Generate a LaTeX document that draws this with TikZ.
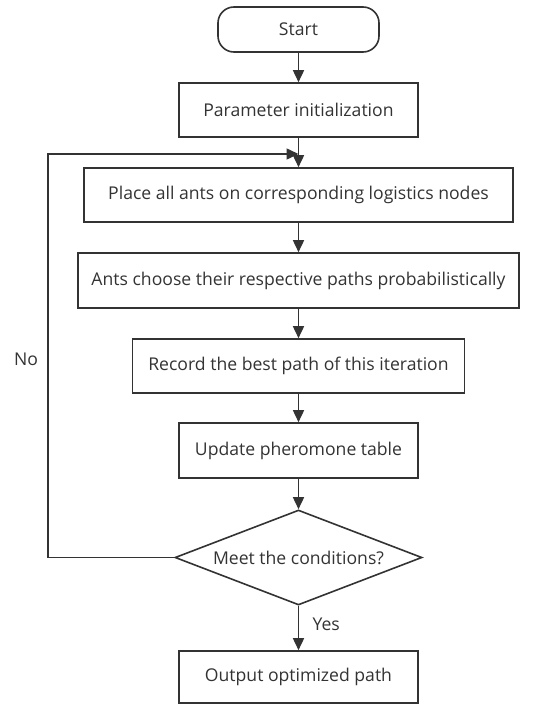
\documentclass[tikz,border=0pt]{standalone}
\usepackage{fontspec}
\setmainfont{Open Sans}
\usetikzlibrary{arrows.meta,shapes.geometric}
\definecolor{ink}{HTML}{333333}
\begin{document}
\begin{tikzpicture}[x=1pt,y=-1pt,
  every node/.style={font=\fontsize{17.6}{20}\selectfont, text=ink},
  procbox/.style={draw=ink, line width=1.6pt, rectangle, inner sep=0pt},
  termbox/.style={draw=ink, line width=1.6pt, rectangle, rounded corners=16pt, inner sep=0pt},
  decbox/.style={draw=ink, line width=1.6pt, diamond, aspect=2.6, inner sep=0pt},
  flow/.style={draw=ink, line width=1.6pt, -{Triangle[length=12pt,width=11pt]}},
  plain/.style={draw=ink, line width=1.6pt}]
\useasboundingbox (0,0) rectangle (547,704);
\node[termbox, minimum width=161pt, minimum height=45pt] (start) at (298.5,29.5) {Start};
\node[procbox, minimum width=239pt, minimum height=54pt] (init) at (298.5,110) {Parameter initialization};
\node[procbox, minimum width=429pt, minimum height=54pt] (place) at (298.5,195) {Place all ants on corresponding logistics nodes};
\node[procbox, minimum width=441pt, minimum height=55pt] (choose) at (298.5,280.5) {Ants choose their respective paths probabilistically};
\node[procbox, minimum width=332pt, minimum height=54pt] (record) at (298.5,366) {Record the best path of this iteration};
\node[procbox, minimum width=239pt, minimum height=55pt] (update) at (298.5,450.5) {Update pheromone table};
\node[decbox, minimum width=247pt, minimum height=95pt] (cond) at (298.5,557.5) {Meet the conditions?};
\node[procbox, minimum width=239pt, minimum height=52pt] (out) at (298.5,677) {Output optimized path};
\coordinate (join) at (298.5,154);
\coordinate (loopL) at (48,300);
\draw[flow] (start) -- (init);
\draw[flow] (init) -- (place);
\draw[flow] (place) -- (choose);
\draw[flow] (choose) -- (record);
\draw[flow] (record) -- (update);
\draw[flow] (update) -- (cond);
\draw[flow] (cond) -- (out);
\draw[flow] (cond.west) -- (cond.west -| loopL) -- (join -| loopL) -- (join);
\node (no) at (26,359) {No};
\node[anchor=west] (yes) at (309,624) {Yes};
\end{tikzpicture}
\end{document}
